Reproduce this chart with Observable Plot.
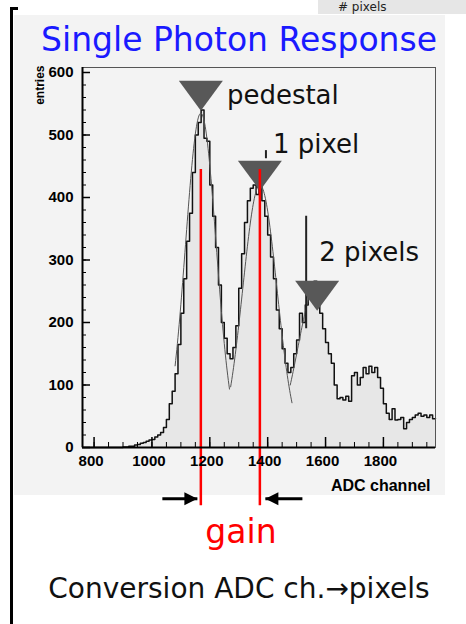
<!DOCTYPE html>
<html>
<head>
<meta charset="utf-8">
<script src="https://cdn.jsdelivr.net/npm/d3@7"></script>
<script src="https://cdn.jsdelivr.net/npm/@observablehq/plot@0.6"></script>
<style>
  html, body { margin: 0; padding: 0; }
  body { width: 466px; height: 624px; position: relative; background: #ffffff; overflow: hidden; font-family: "DejaVu Sans", sans-serif; }
  #panel { position: absolute; left: 14px; top: 15px; width: 431px; height: 480px; background: #f3f3f3; }
  #corner { position: absolute; left: 318px; top: 0; width: 148px; height: 14px; background: #e6e6e6; overflow: hidden; }
  #corner span { position: absolute; left: 20px; top: 0px; font-size: 12px; line-height: 14px; color: #222; white-space: nowrap; }
  #bracketV { position: absolute; left: 10px; top: 7px; width: 3px; height: 617px; background: #000; }
  #bracketH { position: absolute; left: 10px; top: 7px; width: 8px; height: 3px; background: #000; }
  #title { position: absolute; left: 0; top: 23px; width: 478px; text-align: center; font-size: 33px; line-height: 33px; color: #1a1aff; white-space: nowrap; }
  #chart { position: absolute; left: 0; top: 60px; }
  #gain { position: absolute; left: 0; top: 515px; width: 482px; text-align: center; font-size: 33px; line-height: 33px; color: #ff0000; }
  #conv { position: absolute; left: 0; top: 575px; width: 478px; text-align: center; font-size: 28px; line-height: 28px; color: #111; white-space: nowrap; }
</style>
</head>
<body>
<div id="panel"></div>
<div id="corner"><span># pixels</span></div>
<div id="bracketV"></div>
<div id="bracketH"></div>
<div id="title">Single Photon Response</div>
<div id="chart"></div>
<div id="gain">gain</div>
<div id="conv">Conversion ADC ch.→pixels</div>
<script>
// ---- data ----
const adcStart = 760;        // left edge of first bin (ADC channel)
const adcBinWidth = 10;      // bin width (ADC channels)
const counts = [
  0,0,0,0,0,0,0,0,0,0,0,0,0,0,                 // 760-890
  1,1,2,2,4,5,7,8,10,12,                       // 900-990
  13,17,20,24,32,45,70,90,118,165,             // 1000-1090
  215,270,330,375,440,500,520,540,495,490,     // 1100-1190
  420,370,320,260,200,175,150,142,160,195,     // 1200-1290
  255,310,360,395,415,420,405,430,395,370,     // 1300-1390
  340,305,270,220,190,158,135,120,128,150,     // 1400-1490
  172,215,200,228,242,258,266,252,215,190,     // 1500-1590
  168,150,135,100,78,80,76,82,74,115,          // 1600-1690
  120,100,112,128,118,130,120,128,112,95,      // 1700-1790
  70,55,45,62,44,45,48,30,40,45,               // 1800-1890
  48,52,55,50,52,48,52,46                      // 1900-1970
];
const xDomain = [760, 1980];
const yDomain = [0, 608];
const xMajorTicks = [800, 1000, 1200, 1400, 1600, 1800];
const yMajorTicks = [0, 100, 200, 300, 400, 500, 600];

// peaks (pedestal, 1 pixel, 2 pixels)
const peakNames = ["pedestal", "1 pixel", "2 pixels"];
const peakADC = [1169, 1373, 1571];
const peakMarkerY = [539, 411, 219];
const labelADC = [1259, 1418, 1578];
const labelY = [550, 472, 299];

// gaussian fits
const fitMean = [1169, 1373, 1571];
const fitSigma = [53, 59, 67];
const fitAmp = [535, 420, 262];
const fitLo = [1080, 1272, 1478];
const fitHi = [1268, 1484, 1600];

// pointer lines
const pointerADC = [1394, 1533];
const pointerTop = [475, 370];
const pointerBottom = [462, 190];

// gain lines (pedestal and 1-pixel peak) and arrows
const gainADC = [peakADC[0], peakADC[1]];
const gainTop = 445, gainBottom = -93, arrowY = -82;
const arrowFrom = [gainADC[0] - 133, gainADC[1] + 147];
const arrowTo = [gainADC[0] - 12, gainADC[1] + 19];

// ---- build tables ----
const hist = counts.map((c, i) => ({x: adcStart + i * adcBinWidth, y: c}));
hist.push({x: adcStart + counts.length * adcBinWidth, y: counts[counts.length - 1]});

const fits = [];
fitMean.forEach((m, k) => {
  for (let x = fitLo[k]; x <= fitHi[k]; x += 2) {
    fits.push({k, x, y: fitAmp[k] * Math.exp(-((x - m) ** 2) / (2 * fitSigma[k] ** 2))});
  }
});

const peaks = peakNames.map((n, i) => ({name: n, x: peakADC[i], tip: peakMarkerY[i], lx: labelADC[i], ly: labelY[i]}));
const pointers = pointerADC.map((x, i) => ({x, y1: pointerTop[i], y2: pointerBottom[i]}));
const arrows = arrowFrom.map((x1, i) => ({x1, x2: arrowTo[i]}));

const xMinorTicks = d3.range(800, 1951, 50);
const yMinorTicks = d3.range(0, 601, 20);

const triDown = {draw(ctx) { ctx.moveTo(0, 0); ctx.lineTo(-22, -30); ctx.lineTo(22, -30); ctx.closePath(); }};
const headRight = {draw(ctx) { ctx.moveTo(0, 0); ctx.lineTo(-13, -6.5); ctx.lineTo(-13, 6.5); ctx.closePath(); }};

const W = 466, H = 452, mL = 82, mR = 31, mT = 7, mB = 65;
const frameW = W - mL - mR, frameH = H - mT - mB;
const axisFont = {fontFamily: "Liberation Sans, Arial, sans-serif", fontWeight: "bold", fontSize: 15};

const chart = Plot.plot({
  width: W, height: H,
  marginLeft: mL, marginRight: mR, marginTop: mT, marginBottom: mB,
  x: {domain: xDomain},
  y: {domain: yDomain},
  style: {background: "transparent", overflow: "visible", color: "#000"},
  marks: [
    Plot.areaY(hist, {x: "x", y: "y", curve: "step-after", fill: "#e7e7e7"}),
    Plot.lineY(hist, {x: "x", y: "y", curve: "step-after", stroke: "#111", strokeWidth: 1.5}),
    Plot.line(fits, {x: "x", y: "y", z: "k", stroke: "#555", strokeWidth: 1}),
    Plot.ruleX(pointers, {x: "x", y1: "y1", y2: "y2", stroke: "#222", strokeWidth: 2}),
    Plot.dot(peaks, {x: "x", y: "tip", symbol: triDown, fill: "#585858", stroke: "none"}),
    Plot.ruleX(gainADC, {x: d => d, y1: gainTop, y2: gainBottom, stroke: "#ff0000", strokeWidth: 2.5}),
    Plot.link(arrows, {x1: "x1", x2: "x2", y1: arrowY, y2: arrowY, stroke: "#000", strokeWidth: 3}),
    Plot.dot(arrows, {x: "x2", y: arrowY, symbol: headRight, rotate: d => (d.x2 > d.x1 ? 0 : 180), fill: "#000", stroke: "none"}),
    // ticks (inward, ROOT style)
    Plot.tickX(xMinorTicks, {x: d => d, insetTop: frameH - 5, stroke: "#000", strokeWidth: 1}),
    Plot.tickX(xMajorTicks, {x: d => d, insetTop: frameH - 10, stroke: "#000", strokeWidth: 1.5}),
    Plot.tickY(yMinorTicks, {y: d => d, insetRight: frameW - 4, stroke: "#000", strokeWidth: 1}),
    Plot.tickY(yMajorTicks, {y: d => d, insetRight: frameW - 8, stroke: "#000", strokeWidth: 1.5}),
    Plot.frame({stroke: "#555", strokeWidth: 1}),
    Plot.ruleX([xDomain[0]], {stroke: "#000", strokeWidth: 2}),
    Plot.ruleY([yDomain[0]], {stroke: "#000", strokeWidth: 2}),
    Plot.axisX(xMajorTicks, {tickSize: 0, tickPadding: 8, dx: -3, label: null, tickFormat: d => String(d), ...axisFont}),
    Plot.axisY(yMajorTicks, {tickSize: 0, tickPadding: 9, label: null, tickFormat: d => String(d), ...axisFont}),
    Plot.text(["ADC channel"], {frameAnchor: "bottom-right", text: d => d, textAnchor: "end", lineAnchor: "bottom", dx: -5, dy: 43, fontFamily: axisFont.fontFamily, fontWeight: "bold", fontSize: 16}),
    Plot.text(["entries"], {frameAnchor: "top-left", text: d => d, rotate: -90, textAnchor: "end", lineAnchor: "bottom", dx: -39, dy: -2, fontFamily: axisFont.fontFamily, fontWeight: "bold", fontSize: 12}),
    Plot.text(peaks, {x: "lx", y: "ly", text: "name", textAnchor: "start", lineAnchor: "bottom", fontFamily: "DejaVu Sans, sans-serif", fontSize: 26, fill: "#111"})
  ]
});
document.getElementById("chart").appendChild(chart);
</script>
</body>
</html>
